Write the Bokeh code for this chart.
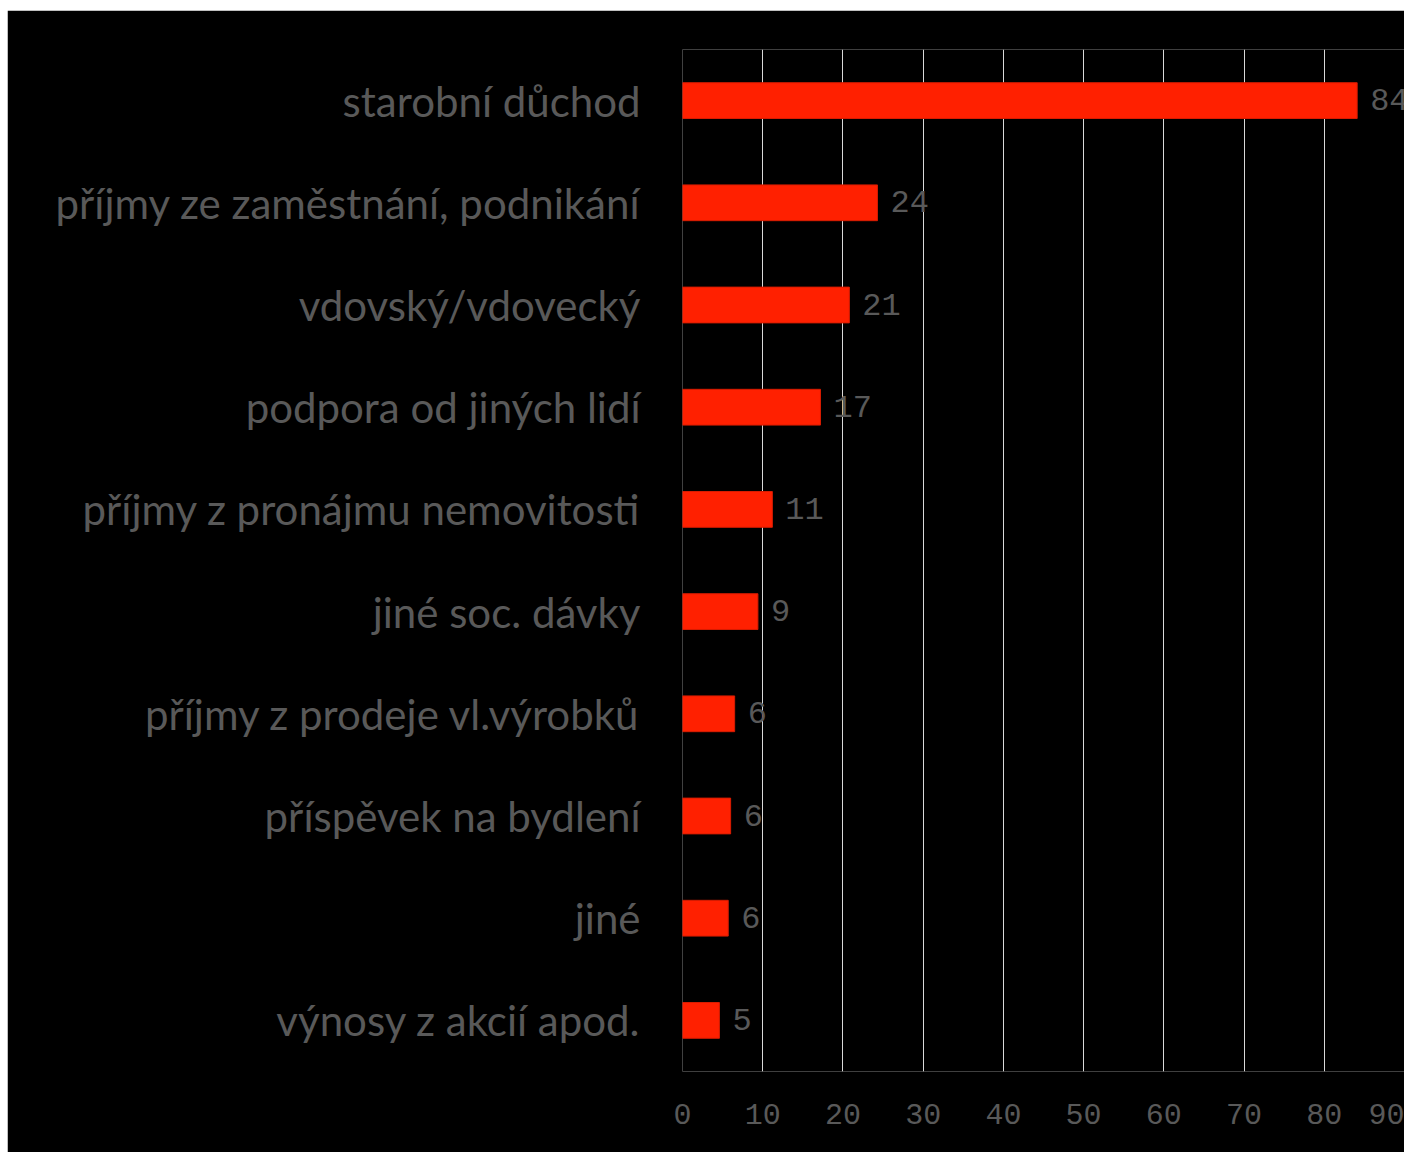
from bokeh.plotting import figure
from bokeh.models import ColumnDataSource, FixedTicker, Range1d
from bokeh.embed import file_html
from bokeh.resources import INLINE
from bokeh.core.properties import value

categories = [
    "starobní důchod",
    "příjmy ze zaměstnání, podnikání",
    "vdovský/vdovecký",
    "podpora od jiných lidí",
    "příjmy z pronájmu nemovitosti",
    "jiné soc. dávky",
    "příjmy z prodeje vl.výrobků",
    "příspěvek na bydlení",
    "jiné",
    "výnosy z akcií apod.",
]
values = [84.1, 24.3, 20.8, 17.2, 11.2, 9.4, 6.5, 6.0, 5.7, 4.6]
labels = ["84", "24", "21", "17", "11", "9", "6", "6", "6", "5"]
x_ticks = [0, 10, 20, 30, 40, 50, 60, 70, 80, 90]

src = ColumnDataSource(dict(cat=categories, val=values, lab=labels))

p = figure(
    width=1397, height=1142,
    margin=(10, 0, 0, 7),
    y_range=list(reversed(categories)),
    x_range=Range1d(0, 90),
    output_backend="svg", toolbar_location=None,
    min_border_left=675, min_border_right=0,
    min_border_top=39, min_border_bottom=81,
    background_fill_color="black", border_fill_color="black",
)
p.outline_line_color = None

p.hbar(y="cat", right="val", left=0, height=0.35, source=src,
       fill_color="#ff2000", line_color="#d81c00", line_width=1)

p.text(x="val", y="cat", text="lab", source=src, x_offset=13, y_offset=-1,
       text_baseline="middle", text_align="left",
       text_font=value("Liberation Mono"), text_font_size="32px",
       text_color="#595959")

p.xaxis.ticker = FixedTicker(ticks=x_ticks)
p.xaxis.axis_line_color = None
p.xaxis.major_tick_line_color = None
p.xaxis.minor_tick_line_color = None
p.xaxis.major_label_text_font = "Liberation Mono"
p.xaxis.major_label_text_font_size = "30px"
p.xaxis.major_label_text_color = "#595959"
p.xaxis.major_label_standoff = 26

p.yaxis.axis_line_color = None
p.yaxis.major_tick_line_color = None
p.yaxis.minor_tick_line_color = None
p.yaxis.major_label_text_font = "Lato"
p.yaxis.major_label_text_font_size = "42px"
p.yaxis.major_label_text_color = "#595959"
p.yaxis.major_label_standoff = 36

p.xgrid.grid_line_color = "#d9d9d9"
p.xgrid.grid_line_width = 1
p.ygrid.grid_line_color = None

open("out.html", "w").write(file_html(p, INLINE))
